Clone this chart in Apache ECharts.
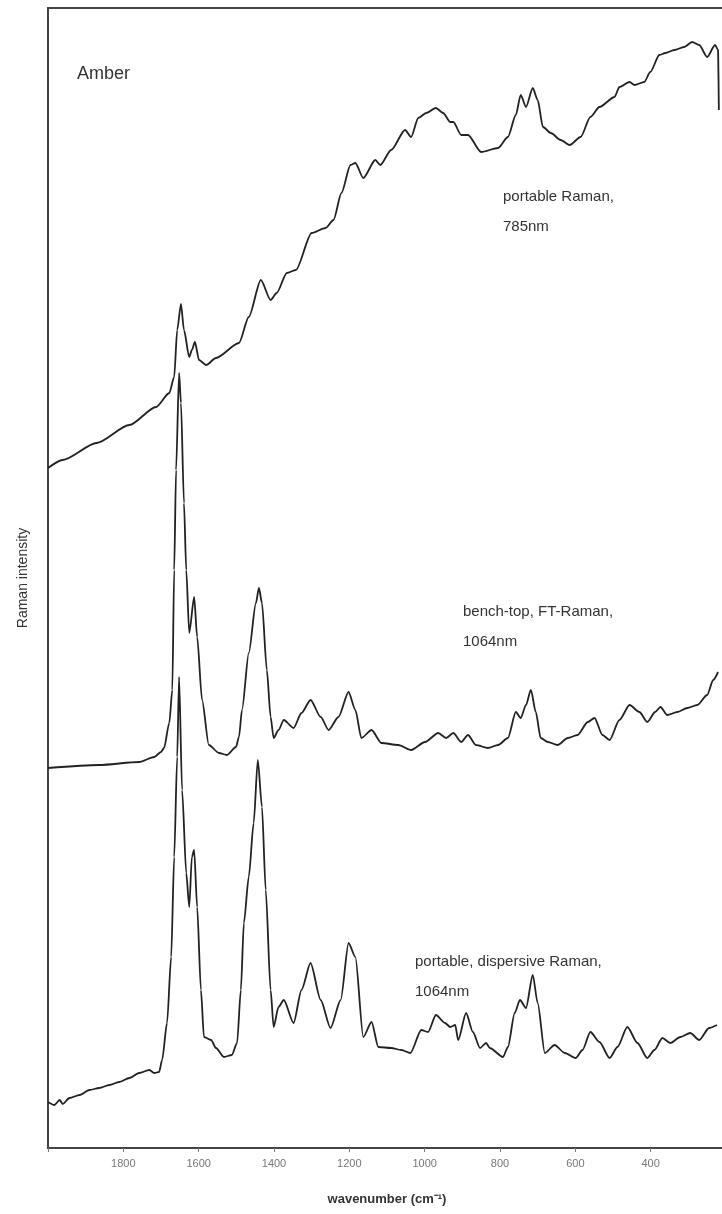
<!DOCTYPE html>
<html><head><meta charset="utf-8">
<script src="https://cdn.jsdelivr.net/npm/echarts@6/dist/echarts.min.js"></script>
<style>html,body{margin:0;padding:0;background:#fff;overflow:hidden}#c{width:729px;height:1214px}</style>
</head><body><div id="c"></div>
<script>
// wavenumber (cm-1) and intensity (arbitrary units, offset per trace)
var wnTop = [2000,1961,1871,1784,1713,1678,1665,1657,1647,1639,1625,1618,1610,1599,1580,1554,1493,1467,1435,1409,1393,1366,1342,1300,1263,1242,1221,1197,1184,1163,1131,1118,1089,1052,1036,1017,996,970,951,932,924,903,885,850,805,779,758,745,731,713,700,686,665,639,615,586,560,536,496,483,456,443,417,401,377,361,337,311,290,271,250,229,221,219];
var valTop = [680,688,705,723,741,755,771,818,844,818,791,798,806,788,783,790,805,831,868,848,855,875,878,915,920,928,955,983,985,970,988,983,998,1018,1011,1030,1035,1040,1035,1026,1026,1013,1013,996,1000,1011,1033,1053,1041,1060,1048,1021,1015,1008,1003,1011,1031,1041,1051,1061,1066,1063,1066,1076,1093,1095,1098,1101,1106,1103,1091,1103,1098,1038];

var wnMid = [2000,1864,1758,1718,1700,1692,1678,1670,1665,1660,1652,1647,1639,1633,1625,1612,1604,1591,1573,1546,1525,1501,1493,1485,1467,1448,1440,1432,1419,1409,1401,1388,1374,1348,1327,1303,1276,1255,1229,1202,1184,1168,1141,1115,1070,1036,999,964,943,924,903,885,864,832,805,779,758,745,731,718,705,692,673,647,620,594,567,549,528,509,483,456,430,409,388,374,356,329,303,276,250,234,221];
var valMid = [380,383,386,391,396,400,425,458,578,678,775,745,645,578,515,551,511,448,403,395,393,401,411,438,495,545,560,545,478,431,410,418,428,420,435,448,431,418,431,456,438,410,418,405,403,398,406,415,410,415,406,413,403,400,403,410,436,430,443,458,436,410,406,403,410,413,426,430,413,408,428,443,436,426,436,441,433,436,440,443,453,468,476];

var wnBot = [2000,1983,1969,1961,1943,1916,1890,1864,1837,1811,1784,1758,1731,1718,1705,1697,1684,1673,1665,1657,1652,1644,1633,1625,1618,1612,1604,1594,1586,1567,1554,1533,1512,1498,1488,1480,1467,1454,1443,1432,1422,1409,1401,1388,1374,1348,1327,1303,1276,1250,1223,1202,1184,1163,1141,1123,1089,1062,1038,1009,991,970,946,932,919,911,890,872,853,837,827,792,779,761,747,731,713,700,681,655,628,599,581,560,536,509,488,462,435,409,390,369,348,321,295,271,245,224];
var valBot = [46,43,48,44,50,53,58,60,63,66,70,75,78,75,76,88,125,191,291,391,471,358,275,241,291,298,241,158,111,108,100,91,93,105,158,225,271,325,388,341,258,158,121,141,148,125,158,185,148,120,148,205,191,111,126,101,100,98,95,118,116,133,125,121,123,108,135,116,100,105,100,91,101,135,148,140,173,145,95,103,95,90,98,116,106,90,101,121,105,90,98,110,105,111,115,108,120,123];

var xTicks = [1800,1600,1400,1200,1000,800,600,400];
var labels = [
  {text:'Amber', x:77, y:56, size:18},
  {text:'portable Raman,\n785nm', x:503, y:182, size:15},
  {text:'bench-top, FT-Raman,\n1064nm', x:463, y:597, size:15},
  {text:'portable, dispersive Raman,\n1064nm', x:415, y:947, size:15}
];

function pairs(w, v){ return w.map(function(x,i){ return [x, v[i]]; }); }
var lineStyle = {color:'#222', width:1.8};
function spectrum(w, v){
  return {type:'line', data:pairs(w,v), showSymbol:false, smooth:0.25, smoothMonotone:'x', lineStyle:lineStyle, silent:true};
}
var chart = echarts.init(document.getElementById('c'), null, {renderer:'canvas'});
chart.setOption({
  animation:false,
  backgroundColor:'#fff',
  grid:{left:48, right:0, top:8, bottom:66, show:true, borderColor:'#444', borderWidth:2, backgroundColor:'transparent'},
  xAxis:{type:'value', inverse:true, min:200, max:2000, interval:200,
    name:'wavenumber (cm\u207B\u00B9)', nameLocation:'middle', nameGap:45,
    nameTextStyle:{fontFamily:'Liberation Sans', fontSize:13, fontWeight:'bold', color:'#333'},
    axisLine:{show:true, lineStyle:{color:'#444', width:2}},
    axisTick:{show:true, length:4, lineStyle:{color:'#777'}},
    axisLabel:{margin:10, fontFamily:'Liberation Sans', fontSize:11, color:'#777',
      formatter:function(v){ return xTicks.indexOf(v) >= 0 ? String(v) : ''; }},
    splitLine:{show:false}},
  yAxis:{type:'value', min:0, max:1140,
    name:'Raman intensity', nameLocation:'middle', nameGap:18,
    nameTextStyle:{fontFamily:'Liberation Sans', fontSize:14, color:'#333'},
    axisLine:{show:false}, axisTick:{show:false}, axisLabel:{show:false}, splitLine:{show:false}},
  series:[ spectrum(wnTop,valTop), spectrum(wnMid,valMid), spectrum(wnBot,valBot) ],
  graphic: labels.map(function(l){
    return {type:'text', left:l.x, top:l.y, style:{text:l.text, fontFamily:'Liberation Sans', fontSize:l.size, fill:'#333', lineHeight:l.size*2}};
  })
});
</script></body></html>
